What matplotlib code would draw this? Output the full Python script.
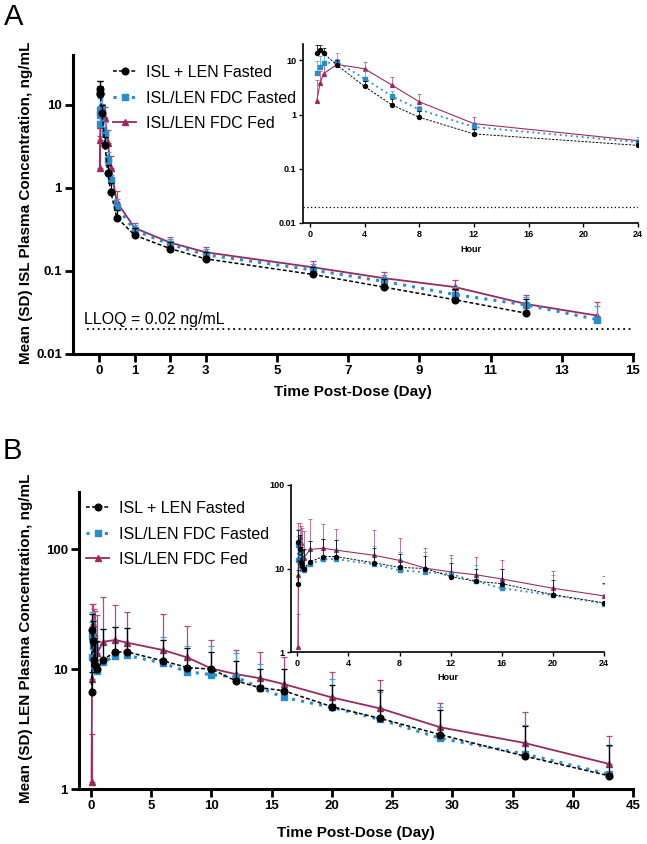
import matplotlib
matplotlib.use("Agg")
import matplotlib.pyplot as plt
import numpy as np
from matplotlib.ticker import NullLocator

plt.rcParams["font.family"] = ["Liberation Sans", "DejaVu Sans"]

nan = np.nan
LLOQ_ISL = 0.02
LABELS = ["ISL + LEN Fasted", "ISL/LEN FDC Fasted", "ISL/LEN FDC Fed"]

# ISL: nominal hours over the first day, then days
isl_hours = [0.5, 0.75, 1, 2, 4, 6, 8, 12, 24]
isl_days = [2, 3, 6, 8, 10, 12, 14]
isl_sep = [13.9, 15.5, 13.5, 8.1, 3.3, 1.51, 0.89, 0.44, 0.27,
           0.186, 0.14, 0.091, 0.064, 0.045, 0.031, nan]
isl_sep_sd = [5.3, 4.0, 3.2, 2.0, 0.8, 0.4, 0.25, 0.1, 0.06,
              0.04, 0.03, 0.02, 0.015, 0.015, 0.015, nan]
isl_fdc = [5.9, 7.6, 8.8, 9.3, 4.6, 2.18, 1.24, 0.59, 0.31,
           0.21, 0.157, 0.103, 0.075, 0.052, 0.039, 0.026]
isl_fdc_sd = [3.8, 4.4, 4.1, 4.2, 1.7, 0.55, 0.2, 0.15, 0.05,
              0.035, 0.025, 0.018, 0.015, 0.012, 0.01, 0.012]
isl_fed = [1.76, 3.75, 5.7, 8.4, 7.0, 3.5, 1.72, 0.68, 0.33,
           0.22, 0.168, 0.111, 0.082, 0.064, 0.040, 0.029]
isl_fed_sd = [2.5, 2.5, 2.5, 2.0, 2.5, 1.5, 0.7, 0.23, 0.05,
              0.04, 0.027, 0.02, 0.015, 0.014, 0.012, 0.013]

# LEN: early hours, then days
len_hours = [1, 2, 4, 6, 8, 12]
len_days = [1, 2, 3, 6, 8, 10, 12, 14, 16, 20, 24, 29, 36, 43]
len_sep = [6.5, 21.0, 17.0, 12.0, 10.8, 10.0, 12.0, 13.9, 13.9, 11.7,
           10.3, 10.0, 8.0, 7.0, 6.6, 4.86, 3.88, 2.84, 1.88, 1.29]
len_sep_sd = [3.0, 8.0, 8.0, 6.0, 6.0, 7.0, 9.5, 8.6, 8.0, 5.8,
              4.6, 4.0, 3.7, 3.0, 3.4, 2.5, 2.8, 1.76, 1.49, 1.05]
len_fdc = [12.5, 19.0, 15.5, 11.0, 10.0, 9.7, 11.4, 12.9, 13.0, 11.2,
           9.5, 9.0, 8.6, 7.0, 5.8, 4.8, 3.8, 2.65, 1.96, 1.33]
len_fdc_sd = [12, 11, 10, 9, 8, 7, 10, 9.5, 9, 7.2,
              6.1, 6.6, 4.9, 4.0, 4.2, 3.5, 2.7, 2.15, 1.45, 0.97]
len_fed = [1.14, 8.3, 24.0, 20.0, 16.0, 13.5, 16.9, 17.5, 16.6, 14.4,
           12.5, 10.1, 9.1, 8.4, 7.5, 5.8, 4.7, 3.27, 2.42, 1.62]
len_fed_sd = [1.73, 26.7, 11, 12, 14.6, 14.7, 22.7, 16.5, 13.4, 14.3,
              10.4, 7.4, 5.4, 5.5, 5.0, 3.6, 3.4, 1.93, 1.93, 1.16]

STYLES = [
    dict(color="black", ecolor="black", ls=(0, (2.5, 1.5)), lw=1.1, marker="o", ms=4.8),
    dict(color="#2a8cc8", ecolor="#4aa0d8", ls=(0, (1, 2)), lw=2.2, marker="s", ms=4.6),
    dict(color="#9c2860", ecolor="#b04a7c", ls="-", lw=1.3, marker="^", ms=4.6),
]


def draw(ax, x, y, sd, st, scale=1.0, capsize=2.5, z=2):
    x = np.asarray(x, dtype=float)
    y = np.asarray(y, dtype=float)
    sd = np.asarray(sd, dtype=float)
    ax.errorbar(x, y, yerr=[np.zeros_like(sd), sd], fmt="none", ecolor=st["ecolor"],
                elinewidth=0.9 * scale, capsize=capsize * scale, capthick=0.9 * scale, zorder=z)
    line, = ax.plot(x, y, color=st["color"], linestyle=st["ls"], lw=st["lw"] * scale,
                    marker=st["marker"], ms=st["ms"] * scale, mec=st["color"],
                    mfc=st["color"], zorder=z + 0.5)
    return line


def style_axis(ax, spine_w, tick_len, tick_w, size):
    for s in ["top", "right"]:
        ax.spines[s].set_visible(False)
    for s in ["left", "bottom"]:
        ax.spines[s].set_linewidth(spine_w)
    ax.tick_params(direction="out", length=tick_len, width=tick_w, labelsize=size, pad=2)
    ax.yaxis.set_minor_locator(NullLocator())
    ax.patch.set_alpha(0)
    for lab in ax.get_xticklabels() + ax.get_yticklabels():
        lab.set_fontweight("bold")


W, H = 647, 844
fig = plt.figure(figsize=(W / 100, H / 100), dpi=100)


def px_axes(left, top, right, bottom):
    return fig.add_axes([left / W, 1 - bottom / H, (right - left) / W, (bottom - top) / H])


isl_x = np.concatenate([np.array(isl_hours) / 24, isl_days])
isl_series = [(isl_sep, isl_sep_sd), (isl_fdc, isl_fdc_sd), (isl_fed, isl_fed_sd)]
len_x = np.concatenate([np.array(len_hours) / 24, len_days])
len_series = [(len_sep, len_sep_sd), (len_fdc, len_fdc_sd), (len_fed, len_fed_sd)]
order = [2, 1, 0]  # black drawn on top

legend_kw = dict(loc="upper left", bbox_transform=fig.transFigure, frameon=False,
                 fontsize=11.5, borderpad=0, borderaxespad=0, handlelength=1.45,
                 handletextpad=0.6, labelspacing=0.66)

# ---------- Panel A ----------
axA = px_axes(73, 55, 633, 354)
handles = {}
for k in order:
    y, sd = isl_series[k]
    handles[k] = draw(axA, isl_x, y, sd, STYLES[k], z=2 + (2 - k))
axA.set_yscale("log")
axA.set_xlim(-0.73, 15)
axA.set_ylim(0.01, 40)
axA.set_xticks([0, 1, 2, 3, 5, 7, 9, 11, 13, 15])
axA.set_yticks([0.01, 0.1, 1, 10], ["0.01", "0.1", "1", "10"])
axA.hlines(LLOQ_ISL, -0.35, 14.95, colors="black", linestyles=(0, (1, 2)), lw=1.3)
axA.text(-0.42, LLOQ_ISL * 1.14, f"LLOQ = {LLOQ_ISL:g} ng/mL", fontsize=11.5, va="baseline")
style_axis(axA, 2.2, 6, 2.0, 9.5)
axA.legend([handles[0], handles[1], handles[2]], LABELS,
           bbox_to_anchor=(113 / W, 1 - 65 / H), **legend_kw)

insA = px_axes(303, 44, 638, 223)
for k in order:
    y, sd = isl_series[k]
    draw(insA, isl_hours, y[:len(isl_hours)], sd[:len(isl_hours)], STYLES[k],
         scale=0.6, capsize=3, z=2 + (2 - k))
insA.set_yscale("log")
insA.set_xlim(-0.5, 24)
insA.set_ylim(0.01, 20)
insA.set_xticks([0, 4, 8, 12, 16, 20, 24])
insA.set_yticks([0.01, 0.1, 1, 10], ["0.01", "0.1", "1", "10"])
insA.axhline(LLOQ_ISL, color="black", ls=(0, (1, 2)), lw=0.9)
insA.set_xlabel("Hour", fontsize=6.5, fontweight="bold", labelpad=4)
style_axis(insA, 1.2, 3, 1.0, 6.5)

# ---------- Panel B ----------
axB = px_axes(79, 492, 633, 789)
handlesB = {}
for k in order:
    y, sd = len_series[k]
    handlesB[k] = draw(axB, len_x, y, sd, STYLES[k], z=2 + (2 - k))
axB.set_yscale("log")
axB.set_xlim(-1, 45)
axB.set_ylim(1, 300)
axB.set_xticks(range(0, 46, 5))
axB.set_yticks([1, 10, 100], ["1", "10", "100"])
style_axis(axB, 2.2, 6, 2.0, 9.5)
axB.legend([handlesB[0], handlesB[1], handlesB[2]], LABELS,
           bbox_to_anchor=(86 / W, 1 - 501 / H), **legend_kw)

insB = px_axes(291, 485, 604, 652)
for k in order:
    y, sd = len_series[k]
    draw(insB, len_x, y, sd, STYLES[k], scale=0.6, capsize=3, z=2 + (2 - k))
insB.set_yscale("log")
insB.set_xlim(-0.5, 24)
insB.set_ylim(1, 100)
insB.set_xticks([0, 4, 8, 12, 16, 20, 24])
insB.set_yticks([1, 10, 100], ["1", "10", "100"])
insB.set_xlabel("Hour", fontsize=6.5, fontweight="bold", labelpad=4)
style_axis(insB, 1.2, 3, 1.0, 6.5)

# ---------- labels ----------
fig.text(26 / W, 1 - 203 / H, "Mean (SD) ISL Plasma Concentration, ng/mL", rotation=90,
         ha="center", va="center", fontsize=11, fontweight="bold")
fig.text(26 / W, 1 - 638 / H, "Mean (SD) LEN Plasma Concentration, ng/mL", rotation=90,
         ha="center", va="center", fontsize=11, fontweight="bold")
fig.text(353 / W, 1 - 392 / H, "Time Post-Dose (Day)", ha="center", va="center",
         fontsize=11, fontweight="bold")
fig.text(356 / W, 1 - 833 / H, "Time Post-Dose (Day)", ha="center", va="center",
         fontsize=11, fontweight="bold")
fig.text(4 / W, 1 - 25 / H, "A", fontsize=21, va="baseline")
fig.text(3 / W, 1 - 459 / H, "B", fontsize=21, va="baseline")

fig.savefig("out.png", dpi=100)
